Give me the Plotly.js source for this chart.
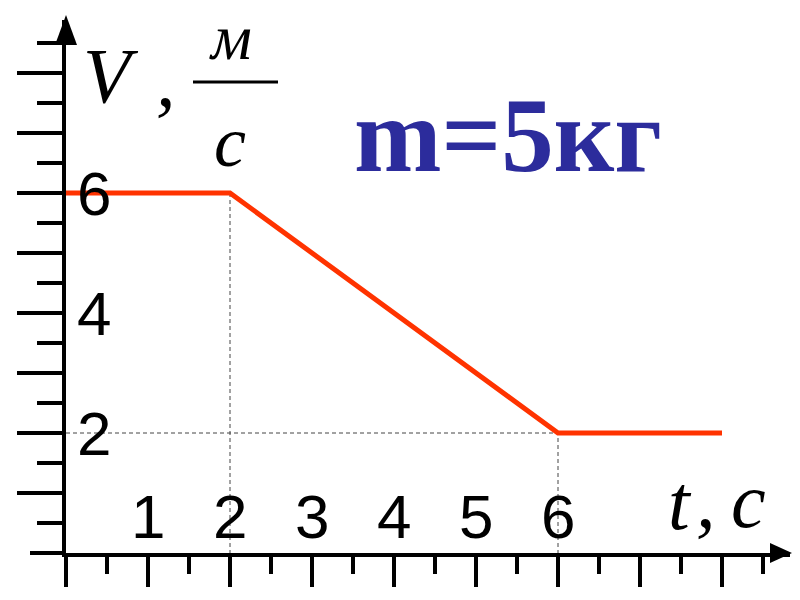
<!DOCTYPE html>
<html><head><meta charset="utf-8">
<script src="https://cdn.plot.ly/plotly-3.0.1.min.js"></script>
<style>html,body{margin:0;padding:0;background:#fff;}#chart{width:800px;height:600px;}</style>
</head><body><div id="chart"></div>
<script>
// data
var timeS = [0, 2, 6, 8];
var speedMS = [6, 6, 2, 2];
var xMajorTicks = [0, 1, 2, 3, 4, 5, 6, 7, 8];
var xTickLabels = ['', '1', '2', '3', '4', '5', '6', '', ''];
var xMinorTicks = [0.5, 1.5, 2.5, 3.5, 4.5, 5.5, 6.5, 7.5, 8.5];
var yMajorTicks = [1, 2, 3, 4, 5, 6, 7, 8];
var yTickLabels = ['', '2', '', '4', '', '6', '', ''];
var yMinorTicks = [0.5, 1.5, 2.5, 3.5, 4.5, 5.5, 6.5, 7.5, 8.5];
var massLabel = 'm=5кг';

// guide lines from the bends of the graph
var b1 = 1, b2 = 2;
var guideX = [timeS[b1], timeS[b1], null, 0, timeS[b2], timeS[b2]];
var guideY = [speedMS[b1], 0, null, speedMS[b2], speedMS[b2], 0];

var traces = [
  {x: guideX, y: guideY, mode: 'lines', line: {color: '#444', width: 1, dash: '4px,3px'},
   hoverinfo: 'skip', showlegend: false, cliponaxis: false},
  {x: timeS, y: speedMS, mode: 'lines', line: {color: '#ff3300', width: 5},
   showlegend: false, cliponaxis: false}
];

var sans = 'Liberation Sans, Arial, sans-serif';
var serif = 'Liberation Serif, Times New Roman, serif';

function px(xp) { return (xp - 66) / 724; }
function py(yp) { return (553 - yp) / 533; }
function lab(t, xp, yp, size) {
  return {text: t, xref: 'paper', yref: 'paper', x: px(xp), y: py(yp), xanchor: 'center', yanchor: 'middle',
          showarrow: false, font: {family: serif, size: size, color: '#000', style: 'italic'}};
}

var ann = [
  lab('V', 111, 76, 78),
  lab(',', 166, 80, 78),
  lab('м', 230, 38, 64),
  lab('с', 230, 142, 72),
  lab('t', 680, 502, 78),
  lab(',', 706, 500, 78),
  lab('c', 748, 500, 78)
];
ann.push({text: '<b>' + massLabel + '</b>', xref: 'paper', yref: 'paper', x: px(508), y: py(135),
  xanchor: 'center', yanchor: 'middle', showarrow: false, font: {family: serif, size: 105, color: '#2c2c9c'}});

// tick labels drawn on the inner side of the axes
xMajorTicks.forEach(function (v, i) {
  if (xTickLabels[i]) ann.push({text: xTickLabels[i], xref: 'x', yref: 'paper', x: v, y: 0,
    xanchor: 'center', yanchor: 'bottom', yshift: 0, showarrow: false,
    font: {family: sans, size: 62, color: '#000'}});
});
yMajorTicks.forEach(function (v, i) {
  if (yTickLabels[i]) ann.push({text: yTickLabels[i], xref: 'paper', yref: 'y', x: 0, y: v,
    xanchor: 'left', yanchor: 'middle', xshift: 9, showarrow: false,
    font: {family: sans, size: 62, color: '#000'}});
});

var layout = {
  width: 800, height: 600,
  margin: {l: 66, r: 10, t: 20, b: 47, pad: 0},
  paper_bgcolor: '#fff', plot_bgcolor: '#fff',
  showlegend: false,
  xaxis: {
    range: [0, 724 / 82], showgrid: false, zeroline: false,
    showline: true, linecolor: '#000', linewidth: 4,
    tickmode: 'array', tickvals: xMajorTicks, showticklabels: false,
    ticks: 'outside', ticklen: 30, tickwidth: 4, tickcolor: '#000',
    minor: {tickmode: 'array', tickvals: xMinorTicks, ticks: 'outside', ticklen: 17, tickwidth: 4, tickcolor: '#000'},
    fixedrange: true
  },
  yaxis: {
    range: [0, 533 / 60], showgrid: false, zeroline: false,
    showline: true, linecolor: '#000', linewidth: 4,
    tickmode: 'array', tickvals: yMajorTicks, showticklabels: false,
    ticks: 'outside', ticklen: 45, tickwidth: 4, tickcolor: '#000',
    minor: {tickmode: 'array', tickvals: yMinorTicks, ticks: 'outside', ticklen: 25, tickwidth: 4, tickcolor: '#000'},
    fixedrange: true
  },
  shapes: [
    {type: 'path', xref: 'paper', yref: 'paper', xsizemode: 'pixel', ysizemode: 'pixel',
     xanchor: 1, yanchor: 0, path: 'M -20,-10 L 2,0 L -20,10 Z', fillcolor: '#000', line: {width: 0}},
    {type: 'path', xref: 'paper', yref: 'paper', xsizemode: 'pixel', ysizemode: 'pixel',
     xanchor: 0, yanchor: 1, path: 'M -11,-25 L 0,5 L 11,-25 Z', fillcolor: '#000', line: {width: 0}},
    {type: 'line', xref: 'paper', yref: 'paper', xsizemode: 'pixel', xanchor: 0,
     x0: -36, x1: 0, y0: 0, y1: 0, line: {color: '#000', width: 4}},
    {type: 'line', xref: 'paper', yref: 'paper', x0: px(193), x1: px(278),
     y0: py(82), y1: py(82), line: {color: '#000', width: 3}}
  ],
  annotations: ann
};

Plotly.newPlot('chart', traces, layout, {staticPlot: true, displayModeBar: false});
</script></body></html>
